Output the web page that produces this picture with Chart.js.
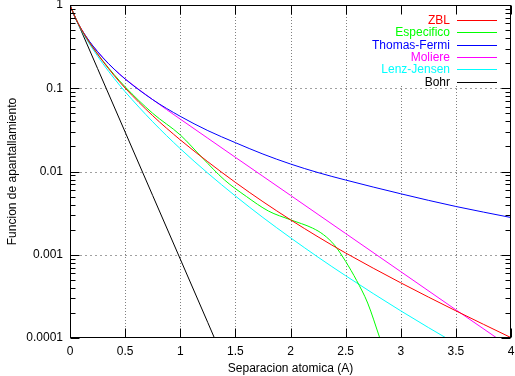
<!DOCTYPE html>
<html><head><meta charset="utf-8">
<script src="https://cdn.jsdelivr.net/npm/chart.js@4/dist/chart.umd.min.js"></script>
<style>html,body{margin:0;padding:0;background:#fff}canvas{display:block}</style>
</head><body>
<canvas id="c" width="515" height="376" style="width:515px;height:376px"></canvas>
<script>
// ---- data ----
const sep = [0,0.05,0.1,0.15,0.2,0.3,0.4,0.5,0.75,1,1.25,1.5,1.75,2,2.25,2.5,3,3.5,4];
const zbl = [1,0.695,0.518,0.401,0.318,0.209,0.1424,0.1005,0.0468,0.024,0.0131,0.0074,0.00434,0.00263,0.00164,0.00105,0.00046,0.000212,0.000101];
const thomasFermi = [1,0.69,0.520,0.411,0.332,0.232,0.170,0.129,0.073,0.046,0.031,0.0222,0.0162,0.0123,0.0097,0.0079,0.0054,0.0038,0.0028];
const moliere = [1,0.688,0.522,0.411,0.3315,0.230,0.1695,0.130,0.073,0.0426,0.0251,0.0148,0.00875,0.00517,0.00305,0.0018,0.000627,0.000218,0.0000764];
const lenzJensen = [1,0.683,0.5065,0.388,0.305,0.196,0.1315,0.0909,0.0396,0.0188,0.00955,0.00508,0.0028,0.0016,0.000935,0.00056,0.000212,0.0000855,0.000036];
const sepEspecifico = [0,0.05,0.1,0.15,0.2,0.3,0.4,0.5,0.75,1,1.2,1.4,1.6,1.8,2,2.2,2.3,2.4,2.5,2.6,2.7,2.81];
const especifico = [1,0.692,0.517,0.403,0.32,0.212,0.146,0.104,0.050,0.0275,0.01462,0.00794,0.00501,0.00335,0.00263,0.00209,0.00174,0.0013,0.000832,0.00049,0.000263,0.0001];
const sepBohr = [0,0.25,0.5,0.75,1,1.25,1.31];
const bohr = [1,0.1726,0.0298,0.00514,0.000888,0.000153,0.0001];

const xTickValues = [0,0.5,1,1.5,2,2.5,3,3.5,4];
const xTickLabels = ['0','0.5','1','1.5','2','2.5','3','3.5','4'];
const yTickValues = [0.0001,0.001,0.01,0.1,1];
const yTickLabels = ['0.0001','0.001','0.01','0.1','1'];
const seriesNames = ['ZBL','Especifico','Thomas-Fermi','Moliere','Lenz-Jensen','Bohr'];
const seriesColors = ['#ff0000','#00ff00','#0000ff','#ff00ff','#00ffff','#000000'];
const xTitle = 'Separacion atomica (A)';
const yTitle = 'Funcion de apantallamiento';

const FONT_FAMILY = '"Liberation Sans", Arial, Helvetica, sans-serif';
Chart.defaults.font.family = FONT_FAMILY;
Chart.defaults.font.size = 12;
Chart.defaults.color = '#000';

const pts = (xs, ys) => xs.map((v, i) => ({x: v, y: ys[i]}));
const seriesData = [pts(sep, zbl), pts(sepEspecifico, especifico), pts(sep, thomasFermi), pts(sep, moliere), pts(sep, lenzJensen), pts(sepBohr, bohr)];

const frame = {
  id: 'gnuplotFrame',
  beforeDatasetsDraw(chart) {
    const {ctx, chartArea: a, scales: {x, y}} = chart;
    ctx.save();
    ctx.lineWidth = 1;
    ctx.strokeStyle = '#808080';
    ctx.setLineDash([1, 2]);
    xTickValues.forEach(v => {
      if (v <= x.min || v >= x.max) return;
      const px = Math.round(x.getPixelForValue(v)) + 0.5;
      ctx.beginPath(); ctx.moveTo(px, a.top); ctx.lineTo(px, a.bottom); ctx.stroke();
    });
    ctx.strokeStyle = '#a0a0a0';
    ctx.setLineDash([2, 3]);
    yTickValues.forEach(v => {
      if (v <= y.min || v >= y.max) return;
      const py = Math.round(y.getPixelForValue(v)) + 0.5;
      ctx.beginPath(); ctx.moveTo(a.left, py); ctx.lineTo(a.right, py); ctx.stroke();
    });
    ctx.restore();
  },
  afterDatasetsDraw(chart) {
    const {ctx, chartArea: a, scales: {x, y}} = chart;
    const L = Math.round(a.left) + 0.5, R = Math.round(a.right) - 0.5;
    const T = Math.round(a.top) + 0.5, B = Math.round(a.bottom) - 0.5;
    ctx.save();
    // legend (opaque key box)
    ctx.fillStyle = '#fff';
    ctx.fillRect(362, T + 0.5, R - 362, 80);
    ctx.font = '12px ' + FONT_FAMILY;
    ctx.textAlign = 'right';
    ctx.textBaseline = 'middle';
    seriesNames.forEach((name, i) => {
      const ry = Math.round(T + 14.5 + i * 12.3) + 0.5;
      ctx.fillStyle = seriesColors[i];
      ctx.fillText(name, 450, ry);
      ctx.strokeStyle = seriesColors[i];
      ctx.lineWidth = 1;
      ctx.beginPath(); ctx.moveTo(457, ry); ctx.lineTo(497, ry); ctx.stroke();
    });
    // ticks
    ctx.strokeStyle = '#000';
    ctx.lineWidth = 1;
    const major = 9, minor = 5;
    xTickValues.forEach(v => {
      const px = Math.round(x.getPixelForValue(v)) + 0.5;
      ctx.beginPath();
      ctx.moveTo(px, B); ctx.lineTo(px, B - major);
      ctx.moveTo(px, T); ctx.lineTo(px, T + major);
      ctx.stroke();
    });
    yTickValues.forEach((v, k) => {
      const py = Math.round(y.getPixelForValue(v)) + 0.5;
      ctx.beginPath();
      ctx.moveTo(L, py); ctx.lineTo(L + major, py);
      ctx.moveTo(R, py); ctx.lineTo(R - major, py);
      ctx.stroke();
      if (k < yTickValues.length - 1) {
        for (let m = 2; m <= 9; m++) {
          const my = Math.round(y.getPixelForValue(v * m)) + 0.5;
          ctx.beginPath();
          ctx.moveTo(L, my); ctx.lineTo(L + minor, my);
          ctx.moveTo(R, my); ctx.lineTo(R - minor, my);
          ctx.stroke();
        }
      }
    });
    // border
    ctx.strokeRect(L, T, R - L, B - T);
    ctx.restore();
  }
};

new Chart(document.getElementById('c'), {
  type: 'line',
  data: {
    datasets: seriesNames.map((name, i) => ({
      label: name,
      data: seriesData[i],
      borderColor: seriesColors[i],
      backgroundColor: seriesColors[i],
      borderWidth: 1,
      pointRadius: 0,
      fill: false,
      cubicInterpolationMode: i === 5 ? 'default' : 'monotone',
      tension: 0
    }))
  },
  options: {
    responsive: false,
    animation: false,
    devicePixelRatio: 1,
    layout: {padding: {left: 0, right: 4, top: 5, bottom: 0}},
    plugins: {legend: {display: false}, tooltip: {enabled: false}},
    scales: {
      x: {
        type: 'linear', min: 0, max: 4,
        grid: {display: false, drawTicks: false},
        border: {display: false},
        afterBuildTicks: s => { s.ticks = xTickValues.map(v => ({value: v})); },
        afterFit: s => { s.height = 38; s.paddingLeft = 0; s.paddingRight = 0; },
        ticks: {padding: 6, maxRotation: 0, autoSkip: false,
          callback: (v, i) => xTickLabels[i]},
        title: {display: true, text: xTitle, padding: {top: 0, bottom: 0}}
      },
      y: {
        type: 'logarithmic', min: 0.0001, max: 1,
        grid: {display: false, drawTicks: false},
        border: {display: false},
        afterBuildTicks: s => { s.ticks = yTickValues.map(v => ({value: v})); },
        afterFit: s => { s.width = 70; s.paddingTop = 0; s.paddingBottom = 0; },
        ticks: {padding: 7, autoSkip: false,
          callback: (v, i) => yTickLabels[i]},
        title: {display: true, text: yTitle, padding: {top: 5, bottom: 0}}
      }
    }
  },
  plugins: [frame]
});
</script>
</body></html>
